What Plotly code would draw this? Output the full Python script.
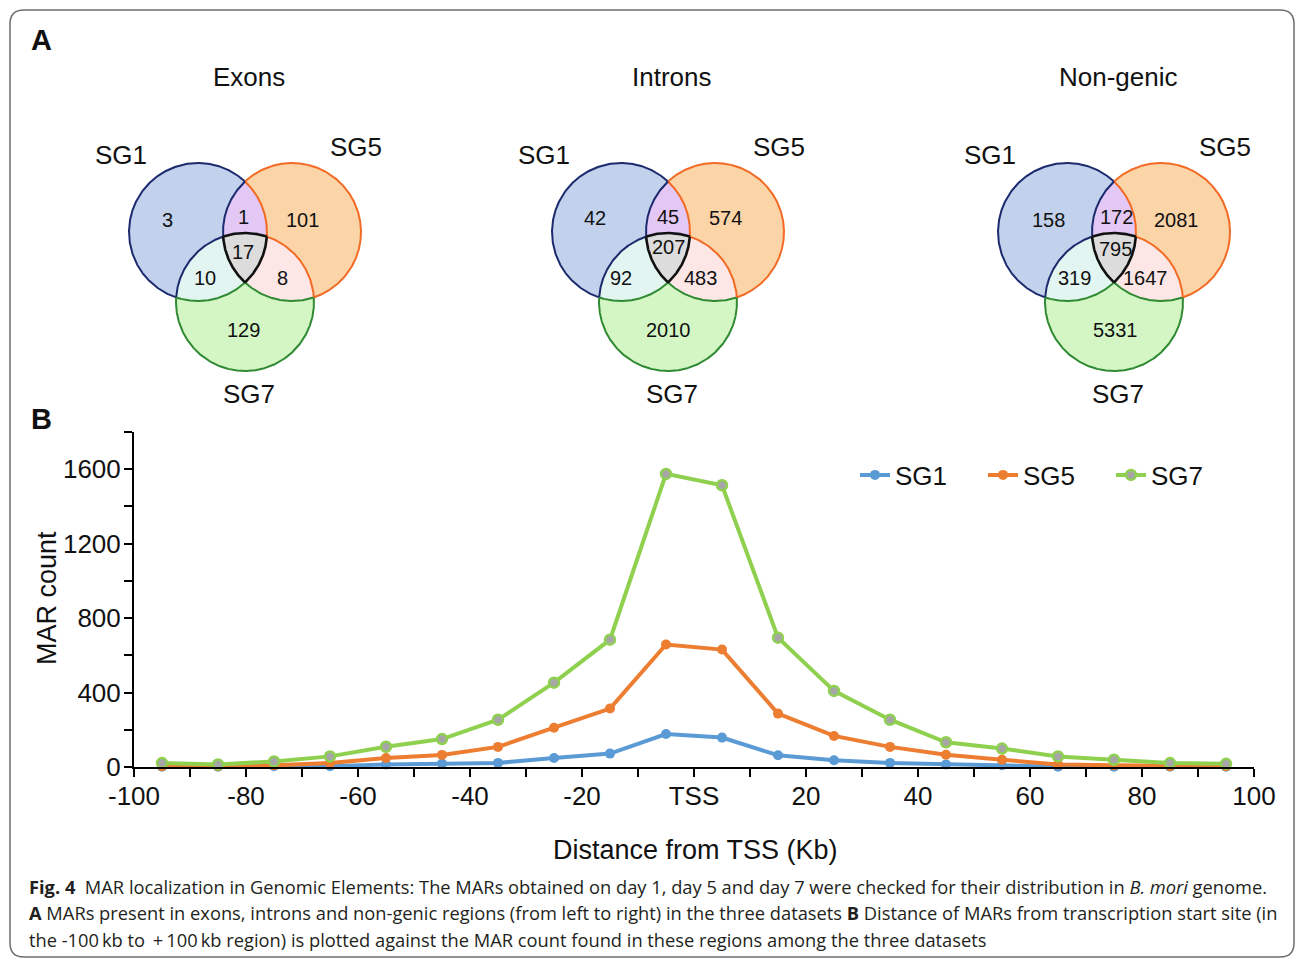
import numpy as np
import plotly.graph_objects as go

W, H = 1295, 958

# ---------------- data ----------------
venn_titles = ["Exons", "Introns", "Non-genic"]
set_names = ["SG1", "SG5", "SG7"]
# region order: SG1 only, SG1&SG5, SG5 only, all three, SG1&SG7, SG5&SG7, SG7 only
exon_counts = [3, 1, 101, 17, 10, 8, 129]
intron_counts = [42, 45, 574, 207, 92, 483, 2010]
nongenic_counts = [158, 172, 2081, 795, 319, 1647, 5331]

distance_kb = [-95, -85, -75, -65, -55, -45, -35, -25, -15, -5,
               5, 15, 25, 35, 45, 55, 65, 75, 85, 95]
sg1_counts = [2, 2, 4, 4, 14, 18, 22, 48, 72, 177, 158, 63, 36, 22, 14, 9, 2, 1, 1, 1]
sg5_counts = [4, 4, 9, 21, 48, 65, 108, 211, 314, 658, 631, 287, 167, 108, 66, 39, 14, 9, 4, 4]
sg7_counts = [21, 14, 30, 57, 109, 150, 254, 453, 684, 1575, 1514, 695, 409, 254, 133, 99, 57, 39, 21, 17]

x_tick_vals = list(range(-100, 101, 10))
x_tick_labels = ["-100", "", "-80", "", "-60", "", "-40", "", "-20", "", "TSS",
                 "", "20", "", "40", "", "60", "", "80", "", "100"]
y_tick_vals = list(range(0, 1801, 200))
y_tick_labels = ["0", "", "400", "", "800", "", "1200", "", "1600", ""]

# ---------------- styles / layout ----------------
FONT = "Liberation Sans, Arial, sans-serif"
CAP_FONT = "Open Sans, Noto Sans, sans-serif"
line_colors = ["#5B9BD5", "#ED7D31", "#8FD14F"]

circle_fill = ["#C2D1EC", "#FBD4A8", "#D3F6C4"]
circle_edge = ["#1C2B6E", "#F26A24", "#2F8A32"]
lens_fill = {(0, 1): "#E3C8F6", (0, 2): "#E3F5F1", (1, 2): "#FDE6E6"}
triple_fill = "#DCDCDC"
R = 69
venn_origin = [(198, 232), (621, 232), (1067, 232)]   # centre of SG1 circle (pixels)
circle_offsets = [(0, 0), (94, 0), (47, 70)]
title_offsets = (51, -155)
setlabel_offsets = [(-77, -77), (158, -85), (51, 162)]
count_offsets = [
    [(-31, -12), (45, -15), (104, -12), (45, 20), (7, 46), (84, 46), (45, 98)],
    [(-26, -14), (47, -15), (104, -14), (47, 15), (0, 46), (79, 46), (47, 98)],
    [(-19, -12), (49, -15), (109, -12), (48, 17), (7, 46), (78, 46), (48, 98)],
]


def fx(p):  # page pixel -> paper fraction (x)
    return p / W


def fy(p):  # page pixel -> paper fraction (y)
    return 1 - p / H


fig = go.Figure()
annotations = []


def circ(cx, cy, r, n=721):
    t = np.linspace(0, 2 * np.pi, n)
    return cx + r * np.cos(t), cy + r * np.sin(t)


def inside(px, py, c, tol=1e-6):
    return np.hypot(px - c[0], py - c[1]) <= R + tol


def sorted_poly(xs, ys):
    mx, my = xs.mean(), ys.mean()
    order = np.argsort(np.arctan2(ys - my, xs - mx))
    xs, ys = xs[order], ys[order]
    return np.append(xs, xs[0]), np.append(ys, ys[0])


def add_poly(xs, ys, color):
    fig.add_trace(go.Scatter(x=xs, y=ys, mode="lines", fill="toself", fillcolor=color,
                             line=dict(width=0, color=color), hoverinfo="skip",
                             showlegend=False, xaxis="x2", yaxis="y2"))


def add_line(xs, ys, color, width):
    fig.add_trace(go.Scatter(x=xs, y=ys, mode="lines", line=dict(width=width, color=color),
                             hoverinfo="skip", showlegend=False, xaxis="x2", yaxis="y2"))


all_counts = [exon_counts, intron_counts, nongenic_counts]
for vi, (ox, oy) in enumerate(venn_origin):
    C = [(ox + dx, oy + dy) for dx, dy in circle_offsets]
    for k in range(3):
        xs, ys = circ(C[k][0], C[k][1], R)
        add_poly(xs, ys, circle_fill[k])
    for (i, j), col in lens_fill.items():
        xi, yi = circ(C[i][0], C[i][1], R, 1441)
        xj, yj = circ(C[j][0], C[j][1], R, 1441)
        mi = inside(xi, yi, C[j])
        mj = inside(xj, yj, C[i])
        xs, ys = sorted_poly(np.concatenate([xi[mi], xj[mj]]), np.concatenate([yi[mi], yj[mj]]))
        add_poly(xs, ys, col)
    px, py = [], []
    for k in range(3):
        xk, yk = circ(C[k][0], C[k][1], R, 1441)
        m = np.ones_like(xk, dtype=bool)
        for o in range(3):
            if o != k:
                m &= inside(xk, yk, C[o])
        px.append(xk[m]); py.append(yk[m])
    xs, ys = sorted_poly(np.concatenate(px), np.concatenate(py))
    add_poly(xs, ys, triple_fill)
    black_arcs = []
    for k in range(3):
        n = 1440
        t = np.linspace(0, 2 * np.pi, n, endpoint=False)
        xk = C[k][0] + R * np.cos(t)
        yk = C[k][1] + R * np.sin(t)
        others = [o for o in range(3) if o != k]
        codes = []
        for a in range(n):
            ins = tuple(o for o in others if np.hypot(xk[a] - C[o][0], yk[a] - C[o][1]) < R)
            codes.append(ins)
        start = 0
        for a in range(n):
            if codes[a] != codes[a - 1]:
                start = a
                break
        idx = [(start + a) % n for a in range(n)]
        runs = []
        cur = [idx[0]]
        for a in idx[1:]:
            if codes[a] == codes[cur[-1]]:
                cur.append(a)
            else:
                runs.append(cur)
                cur = [a]
        runs.append(cur)
        for run in runs:
            code = codes[run[0]]
            rx = list(xk[run]) + [xk[(run[-1] + 1) % n]]
            ry = list(yk[run]) + [yk[(run[-1] + 1) % n]]
            if len(code) == 0:
                add_line(rx, ry, circle_edge[k], 2)
            elif len(code) == 1:
                add_line(rx, ry, circle_edge[code[0]], 2)
            else:
                black_arcs.append((rx, ry))
    for rx, ry in black_arcs:
        add_line(rx, ry, "#111111", 2.6)
    annotations.append(dict(x=ox + title_offsets[0], y=oy + title_offsets[1], text=venn_titles[vi],
                            xref="x2", yref="y2", showarrow=False,
                            font=dict(family=FONT, size=26, color="#111")))
    for s in range(3):
        annotations.append(dict(x=ox + setlabel_offsets[s][0], y=oy + setlabel_offsets[s][1],
                                text=set_names[s], xref="x2", yref="y2", showarrow=False,
                                font=dict(family=FONT, size=26, color="#111")))
    for r_i, cnt in enumerate(all_counts[vi]):
        dx, dy = count_offsets[vi][r_i]
        annotations.append(dict(x=ox + dx, y=oy + dy, text=str(cnt), xref="x2", yref="y2",
                                showarrow=False, font=dict(family=FONT, size=20, color="#111")))

# ---------------- line chart ----------------
series = [("SG1", sg1_counts), ("SG5", sg5_counts), ("SG7", sg7_counts)]
for i, (name, vals) in enumerate(series):
    mk = dict(size=10, color=line_colors[i], line=dict(width=0))
    if name == "SG7":
        mk = dict(size=10, color="#A6A6A6", line=dict(width=2.5, color=line_colors[i]))
    fig.add_trace(go.Scatter(x=distance_kb, y=vals, name=name, mode="lines+markers",
                             line=dict(color=line_colors[i], width=4), marker=mk,
                             cliponaxis=False, xaxis="x", yaxis="y"))

annotations += [
    dict(x=41, y=40, text="<b>A</b>", xref="x2", yref="y2", showarrow=False,
         font=dict(family=FONT, size=29, color="#111")),
    dict(x=41, y=419, text="<b>B</b>", xref="x2", yref="y2", showarrow=False,
         font=dict(family=FONT, size=29, color="#111")),
    dict(x=47, y=598, text="MAR count", textangle=-90, xref="x2", yref="y2", showarrow=False,
         font=dict(family=FONT, size=27, color="#111")),
    dict(x=695, y=850, text="Distance from TSS (Kb)", xref="x2", yref="y2", showarrow=False,
         font=dict(family=FONT, size=27, color="#111")),
]

caption = [
    "<b>Fig. 4</b>\u00a0\u00a0MAR localization in Genomic Elements: The MARs obtained on day 1, day 5 and day 7 "
    "were checked for their distribution in <i>B. mori</i> genome.",
    "<b>A</b> MARs present in exons, introns and non-genic regions (from left to right) in the three datasets "
    "<b>B</b> Distance of MARs from transcription start site (in",
    "the -100\u2009kb to \u2009+\u2009100\u2009kb region) is plotted against the MAR count found in these "
    "regions among the three datasets",
]
for li, txt in enumerate(caption):
    annotations.append(dict(x=27, y=886 + li * 26.5, text=txt, xref="x2", yref="y2",
                            xanchor="left", showarrow=False,
                            font=dict(family=CAP_FONT, size=18.3, color="#231F20")))

border = ("M 24 10 L 1280 10 Q 1294 10 1294 24 L 1294 943 Q 1294 957 1280 957 "
          "L 24 957 Q 10 957 10 943 L 10 24 Q 10 10 24 10 Z")

fig.update_layout(
    template="none",
    width=W, height=H, autosize=False, margin=dict(l=0, r=0, t=0, b=0, pad=0),
    paper_bgcolor="white", plot_bgcolor="rgba(0,0,0,0)",
    annotations=annotations,
    shapes=[dict(type="path", path=border, xref="x2", yref="y2",
                 line=dict(color="#6E6E6E", width=1.5), layer="below")],
    xaxis=dict(domain=[fx(134), fx(1254)], anchor="y", range=[-100, 100], automargin=False,
               tickmode="array", tickvals=x_tick_vals, ticktext=x_tick_labels,
               showline=True, linecolor="black", linewidth=2, ticks="outside",
               ticklen=8, tickwidth=2, tickcolor="black", showgrid=False, zeroline=False,
               ticklabelstandoff=-3,
               tickfont=dict(family=FONT, size=26, color="#111")),
    yaxis=dict(domain=[fy(767), fy(432)], anchor="x", range=[0, 1800], automargin=False,
               tickmode="array", tickvals=y_tick_vals, ticktext=y_tick_labels,
               showline=True, linecolor="black", linewidth=2, ticks="outside",
               ticklen=8, tickwidth=2, tickcolor="black", showgrid=False, zeroline=False,
               ticklabelstandoff=-2,
               tickfont=dict(family=FONT, size=26, color="#111")),
    xaxis2=dict(domain=[0, 1], anchor="y2", range=[0, W], visible=False, fixedrange=True,
                automargin=False, showgrid=False, zeroline=False),
    yaxis2=dict(domain=[0, 1], anchor="x2", range=[H, 0], visible=False, fixedrange=True,
                automargin=False, showgrid=False, zeroline=False),
    legend=dict(orientation="h", x=fx(855), y=fy(475), xanchor="left", yanchor="middle",
                font=dict(family=FONT, size=26, color="#111"), bgcolor="rgba(0,0,0,0)",
                entrywidth=83, entrywidthmode="pixels", borderwidth=0),
    showlegend=True,
)

fig.write_html(
    "out.html",
    config={"displayModeBar": False},
    post_script="document.body.style.margin='0px';document.documentElement.style.overflow='hidden';",
)
